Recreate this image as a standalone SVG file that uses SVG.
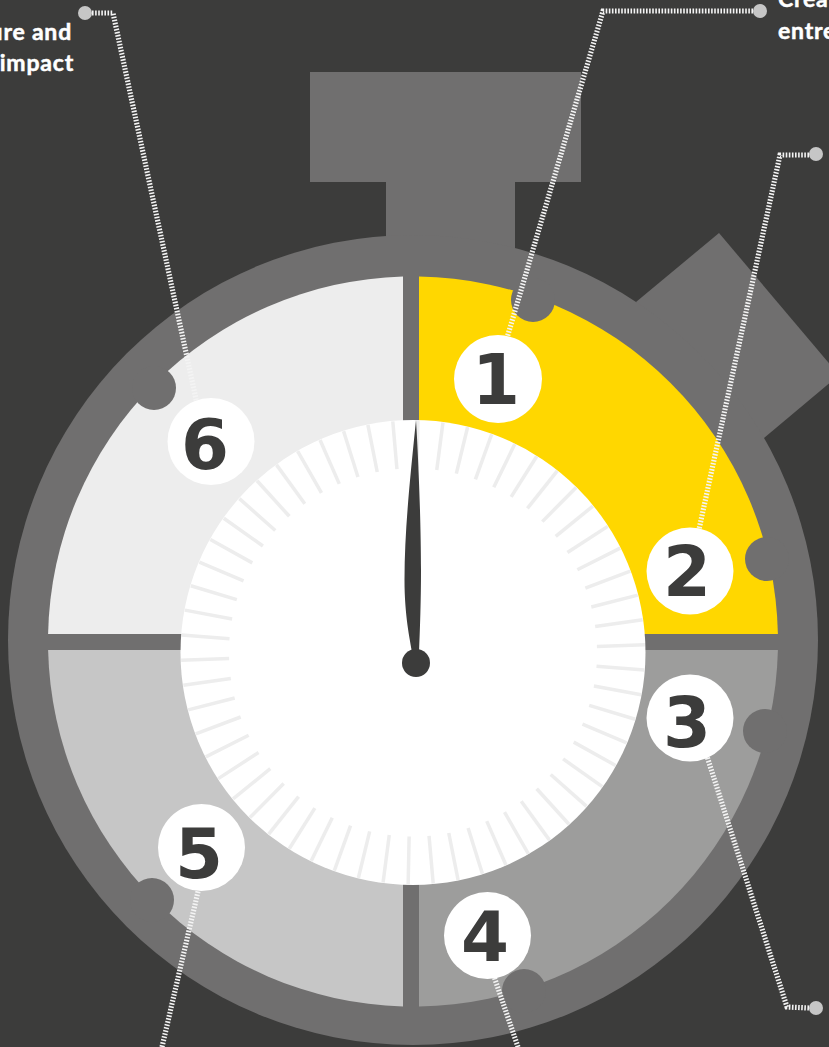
<svg xmlns="http://www.w3.org/2000/svg" width="829" height="1047" viewBox="0 0 829 1047">
<style>
.body{fill:#706f6f}
.knob{fill:#706f6f}
.badge{fill:#fff}
.num{font-family:"DejaVu Sans","Liberation Sans",sans-serif;font-weight:700;font-size:69px;fill:#3c3c3b;text-anchor:middle}
.lbl{font-family:"Lato","Liberation Sans",sans-serif;font-weight:700;font-size:23px;letter-spacing:.8px;fill:#fff;stroke:#fff;stroke-width:.5px}
.wire{fill:none;stroke:#f4f4f4;stroke-width:5.2;stroke-dasharray:1.6 1.5}
.dot{fill:#c6c6c6}
.tick{stroke:#ededed;stroke-width:3.5}
</style>
<defs><line id="t" class="tick" x1="597" y1="652.5" x2="645" y2="652.5"/></defs>
<rect width="829" height="1047" fill="#3c3c3b"/>
<g id="labels">
<text class="lbl" x="72" y="40" text-anchor="end">ure and</text>
<text class="lbl" x="74" y="71" text-anchor="end">impact</text>
<text class="lbl" x="778" y="7">Crea</text>
<text class="lbl" x="778" y="39">entre</text>
</g>
<g id="watch-body">
<rect class="body" x="310" y="72" width="271" height="110"/>
<rect class="body" x="386" y="182" width="129" height="80"/>
<polygon class="body" points="636,302 719,233 839,375 764,438 700,450"/>
<circle class="body" cx="413" cy="640" r="405"/>
</g>
<g id="sector-1-2"><path fill="#ffd700" d="M419,634V276.55A365,365 0 0 1 777.9,634Z"/></g>
<g id="sector-3-4"><path fill="#9d9d9c" d="M419,650H777.9A365,365 0 0 1 419,1006.45Z"/></g>
<g id="sector-5"><path fill="#c6c6c6" d="M403,650V1006.4A365,365 0 0 1 48.1,650Z"/></g>
<g id="sector-6"><path fill="#ededed" d="M403,634V276.6A365,365 0 0 0 48.1,634Z"/></g>
<g id="knobs">
<circle class="knob" cx="533" cy="300" r="22"/>
<circle class="knob" cx="767" cy="559" r="22"/>
<circle class="knob" cx="765" cy="731" r="22"/>
<circle class="knob" cx="524" cy="991" r="22"/>
<circle class="knob" cx="152" cy="900" r="22"/>
<circle class="knob" cx="154" cy="388" r="22"/>
</g>
<g id="dial">
<circle cx="413" cy="652.5" r="232.5" fill="#fff"/>
<use href="#t" transform="rotate(-1.9 413 652.5)"/><use href="#t" transform="rotate(4.31 413 652.5)"/><use href="#t" transform="rotate(10.51 413 652.5)"/><use href="#t" transform="rotate(16.72 413 652.5)"/><use href="#t" transform="rotate(22.93 413 652.5)"/><use href="#t" transform="rotate(29.14 413 652.5)"/><use href="#t" transform="rotate(35.34 413 652.5)"/><use href="#t" transform="rotate(41.55 413 652.5)"/><use href="#t" transform="rotate(47.76 413 652.5)"/><use href="#t" transform="rotate(53.96 413 652.5)"/>
<use href="#t" transform="rotate(60.17 413 652.5)"/><use href="#t" transform="rotate(66.38 413 652.5)"/><use href="#t" transform="rotate(72.58 413 652.5)"/><use href="#t" transform="rotate(78.79 413 652.5)"/><use href="#t" transform="rotate(85 413 652.5)"/><use href="#t" transform="rotate(91.2 413 652.5)"/><use href="#t" transform="rotate(97.41 413 652.5)"/><use href="#t" transform="rotate(103.62 413 652.5)"/><use href="#t" transform="rotate(109.83 413 652.5)"/><use href="#t" transform="rotate(116.03 413 652.5)"/>
<use href="#t" transform="rotate(122.24 413 652.5)"/><use href="#t" transform="rotate(128.45 413 652.5)"/><use href="#t" transform="rotate(134.65 413 652.5)"/><use href="#t" transform="rotate(140.86 413 652.5)"/><use href="#t" transform="rotate(147.07 413 652.5)"/><use href="#t" transform="rotate(153.28 413 652.5)"/><use href="#t" transform="rotate(159.48 413 652.5)"/><use href="#t" transform="rotate(165.69 413 652.5)"/><use href="#t" transform="rotate(171.9 413 652.5)"/><use href="#t" transform="rotate(178.1 413 652.5)"/>
<use href="#t" transform="rotate(184.31 413 652.5)"/><use href="#t" transform="rotate(190.52 413 652.5)"/><use href="#t" transform="rotate(196.72 413 652.5)"/><use href="#t" transform="rotate(202.93 413 652.5)"/><use href="#t" transform="rotate(209.14 413 652.5)"/><use href="#t" transform="rotate(215.35 413 652.5)"/><use href="#t" transform="rotate(221.55 413 652.5)"/><use href="#t" transform="rotate(227.76 413 652.5)"/><use href="#t" transform="rotate(233.97 413 652.5)"/><use href="#t" transform="rotate(240.17 413 652.5)"/>
<use href="#t" transform="rotate(246.38 413 652.5)"/><use href="#t" transform="rotate(252.59 413 652.5)"/><use href="#t" transform="rotate(258.79 413 652.5)"/><use href="#t" transform="rotate(265 413 652.5)"/><use href="#t" transform="rotate(271.21 413 652.5)"/><use href="#t" transform="rotate(277.42 413 652.5)"/><use href="#t" transform="rotate(283.62 413 652.5)"/><use href="#t" transform="rotate(289.83 413 652.5)"/><use href="#t" transform="rotate(296.04 413 652.5)"/><use href="#t" transform="rotate(302.24 413 652.5)"/>
<use href="#t" transform="rotate(308.45 413 652.5)"/><use href="#t" transform="rotate(314.66 413 652.5)"/><use href="#t" transform="rotate(320.86 413 652.5)"/><use href="#t" transform="rotate(327.07 413 652.5)"/><use href="#t" transform="rotate(333.28 413 652.5)"/><use href="#t" transform="rotate(339.49 413 652.5)"/><use href="#t" transform="rotate(345.69 413 652.5)"/><use href="#t" transform="rotate(351.9 413 652.5)"/>
</g>
<g id="needle" fill="#3c3c3b">
<path d="M416,420C410,480 404.5,530 404.5,580C404.5,615 410,640 412,652H419C420,630 421,600 421,570C421,530 419,470 416,420Z"/>
<circle cx="416" cy="663" r="14"/>
</g>
<g id="connectors">
<path class="wire" d="M753,11H603L495,379"/>
<path class="wire" d="M809,155H780L690,571"/>
<path class="wire" d="M809,1008L787,1007L697,725"/>
<path class="wire" d="M518,1047L485,950"/>
<path class="wire" d="M162,1047L203,870"/>
<path class="wire" d="M92,13H113L205,441"/>
<circle class="dot" cx="760" cy="11" r="7"/>
<circle class="dot" cx="816" cy="154" r="7"/>
<circle class="dot" cx="816" cy="1008" r="7"/>
<circle class="dot" cx="85" cy="13" r="7"/>
</g>
<g id="node-1"><circle class="badge" cx="498" cy="379" r="44"/><text class="num" x="496" y="404">1</text></g>
<g id="node-2"><circle class="badge" cx="690" cy="571" r="43.5"/><text class="num" x="687" y="596">2</text></g>
<g id="node-3"><circle class="badge" cx="690" cy="718" r="43.5"/><text class="num" x="687" y="747">3</text></g>
<g id="node-4"><circle class="badge" cx="487.5" cy="935.5" r="43.5"/><text class="num" x="485" y="961">4</text></g>
<g id="node-5"><circle class="badge" cx="201.5" cy="847.5" r="43.5"/><text class="num" x="199" y="878">5</text></g>
<g id="node-6"><circle class="badge" cx="211" cy="441.5" r="43.5"/><text class="num" x="205" y="469">6</text></g>
</svg>
